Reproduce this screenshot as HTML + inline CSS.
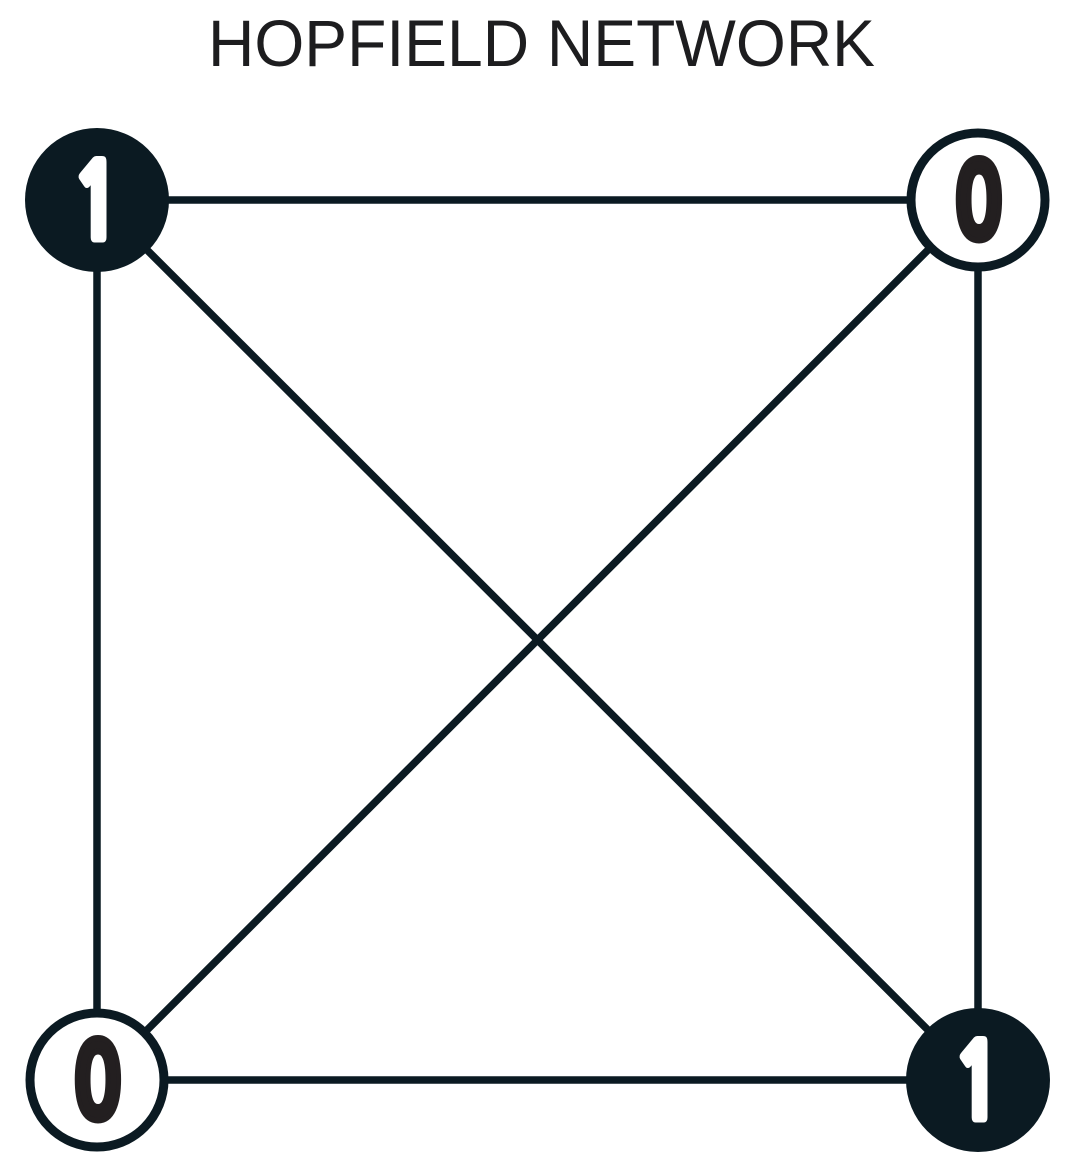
<!DOCTYPE html>
<html><head><meta charset="utf-8"><style>
html,body{margin:0;padding:0;background:#fff;width:1080px;height:1165px;overflow:hidden}
</style></head><body>
<svg width="1080" height="1165" viewBox="0 0 1080 1165">
<text x="208" y="66" font-family="Liberation Sans, sans-serif" font-size="66" fill="#1d1d1f" textLength="667" lengthAdjust="spacingAndGlyphs">HOPFIELD NETWORK</text>
<g id="edges" stroke="#0b1a22" stroke-width="7.5"></g>
<g id="nodes"></g>
<g style="font-family:'NanumGothic',sans-serif;font-weight:800" font-size="104" text-anchor="middle" stroke-width="6" stroke-linejoin="round">
<text transform="translate(97 239) scale(0.78 1)" fill="#fff" stroke="#fff">1</text>
<text transform="translate(978 239) scale(0.78 1)" fill="#231f20" stroke="#231f20">0</text>
<text transform="translate(97 1119) scale(0.78 1)" fill="#231f20" stroke="#231f20">0</text>
<text transform="translate(978 1119) scale(0.78 1)" fill="#fff" stroke="#fff">1</text>
</g>
</svg>
<script>
const nodeX=[97,978,97,978];
const nodeY=[200,200,1080,1080];
const nodeState=[1,0,0,1];
const edgesFrom=[0,0,0,1,1,2];
const edgesTo=[1,2,3,2,3,3];
const NS='http://www.w3.org/2000/svg';
const eg=document.getElementById('edges'),ng=document.getElementById('nodes');
for(let i=0;i<edgesFrom.length;i++){
  const l=document.createElementNS(NS,'line');
  l.setAttribute('x1',nodeX[edgesFrom[i]]);l.setAttribute('y1',nodeY[edgesFrom[i]]);
  l.setAttribute('x2',nodeX[edgesTo[i]]);l.setAttribute('y2',nodeY[edgesTo[i]]);
  
  
  eg.appendChild(l);
}
for(let i=0;i<nodeX.length;i++){
  const on=nodeState[i]===1;
  const c=document.createElementNS(NS,'circle');
  c.setAttribute('cx',nodeX[i]);c.setAttribute('cy',nodeY[i]);
  c.setAttribute('r',on?72:67);
  c.setAttribute('fill',on?'#0b1a22':'#fff');
  c.setAttribute('stroke','#0b1a22');c.setAttribute('stroke-width',on?0:9);
  
  
  ng.appendChild(c);
}
</script>
</body></html>
